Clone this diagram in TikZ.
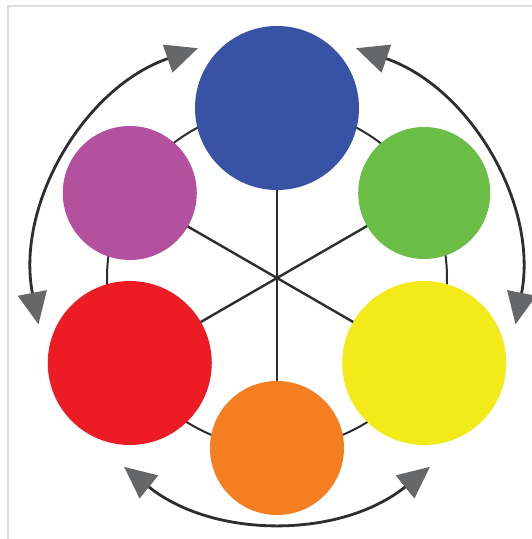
\documentclass[tikz,border=0pt]{standalone}
\usetikzlibrary{arrows.meta,backgrounds}
\definecolor{cblue}{HTML}{3953A4}
\definecolor{cgreen}{HTML}{6ABD45}
\definecolor{cpurple}{HTML}{B3519E}
\definecolor{cred}{HTML}{ED1C24}
\definecolor{cyellow}{HTML}{F2EA19}
\definecolor{corange}{HTML}{F47E20}
\definecolor{tipgray}{HTML}{666768}
\definecolor{linegray}{HTML}{2E2E2E}
\definecolor{framegray}{HTML}{DDDDDD}
\tikzset{
  dot/.style={circle, draw=none, inner sep=0pt, minimum size=#1},
  spoke/.style={line width=2.4pt, draw=linegray},
  ring/.style={line width=2pt, draw=linegray},
  dblarrow/.style={line width=2.8pt, draw=linegray,
    {Triangle[length=32pt,width=29pt,color=tipgray]}-{Triangle[length=32pt,width=29pt,color=tipgray]}},
  frame/.style={line width=1.5pt, draw=framegray}
}
\begin{document}
\begin{tikzpicture}[x=1pt,y=1pt]
\useasboundingbox (0,0) rectangle (532,539);
\coordinate (c) at (277,261);
% colour circles
\node[dot=164pt, fill=cblue]   (blue)   at ([shift={(90:170)}]c) {};
\node[dot=132pt, fill=cgreen]  (green)  at ([shift={(30:170)}]c) {};
\node[dot=164pt, fill=cyellow] (yellow) at ([shift={(-30:170)}]c) {};
\node[dot=134pt, fill=corange] (orange) at ([shift={(-90:170)}]c) {};
\node[dot=164pt, fill=cred]    (red)    at ([shift={(210:170)}]c) {};
\node[dot=134pt, fill=cpurple] (purple) at ([shift={(150:170)}]c) {};
\begin{pgfonlayer}{background}
  \fill[white] (0,0) rectangle (532,539);
  \draw[frame] (8,0) -- (8,533) -- (532,533);
  \draw[ring] (c) circle[radius=170];
  \draw[spoke] (blue.center) -- (orange.center);
  \draw[spoke] (purple.center) -- (yellow.center);
  \draw[spoke] (green.center) -- (red.center);
\end{pgfonlayer}
% double-headed arcs
\draw[dblarrow] ([shift={(109:243)}]c) arc[start angle=109, end angle=191, radius=243];
\draw[dblarrow] ([shift={(71:243)}]c) arc[start angle=71, end angle=-11, radius=243];
\draw[dblarrow] ([shift={(231:243)}]c) arc[start angle=231, end angle=309, radius=243];
\end{tikzpicture}
\end{document}
